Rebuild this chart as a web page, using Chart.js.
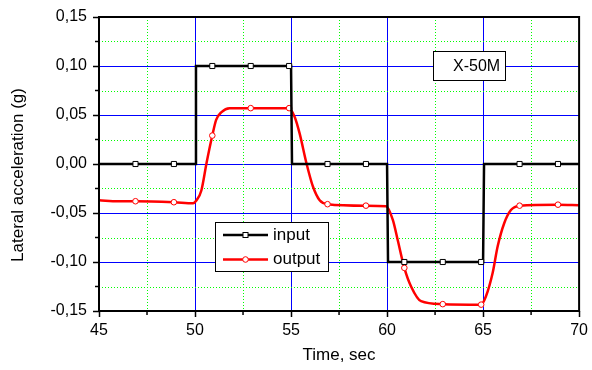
<!DOCTYPE html>
<html>
<head>
<meta charset="utf-8">
<script src="https://cdn.jsdelivr.net/npm/chart.js@4.4.0/dist/chart.umd.min.js"></script>
<style>
  body { margin: 0; background: #fff; }
  #wrap { width: 592px; height: 370px; }
</style>
</head>
<body>
<div id="wrap"><canvas id="accelChart" width="592" height="370"></canvas></div>
<script>
// time axis (sec) and values (g)
const inputTime  = [45, 46.9, 48.9, 50.0, 50.05, 50.9, 52.9, 54.9, 55.0, 55.05, 56.9, 58.9, 60.0, 60.05, 60.9, 62.9, 64.9, 65.0, 65.05, 66.9, 68.9, 70];
const inputValue = [0, 0, 0, 0, 0.1, 0.1, 0.1, 0.1, 0.1, 0, 0, 0, 0, -0.1, -0.1, -0.1, -0.1, -0.1, 0, 0, 0, 0];

const outputTime  = [45, 46, 46.9, 48.9, 49.9, 50.08, 50.33, 50.6, 50.9, 51.1, 51.38, 51.8, 52.9, 54.9, 55.19, 55.45, 55.8, 56.14, 56.49, 56.9, 58.9, 59.95, 60.3, 60.56, 60.9, 61.25, 61.77, 62.9, 64.9, 65.15, 65.5, 65.76, 66.1, 66.45, 66.9, 68.9, 70];
const outputValue = [-0.037, -0.038, -0.038, -0.039, -0.040, -0.037, -0.027, 0.001, 0.029, 0.045, 0.053, 0.057, 0.057, 0.057, 0.048, 0.031, 0.001, -0.023, -0.037, -0.041, -0.0425, -0.043, -0.057, -0.078, -0.106, -0.125, -0.140, -0.143, -0.1435, -0.135, -0.111, -0.084, -0.0605, -0.047, -0.0425, -0.0415, -0.042];

// symbols are only drawn every 2 sec
const markerTimes = [46.9, 48.9, 50.9, 52.9, 54.9, 56.9, 58.9, 60.9, 62.9, 64.9, 66.9, 68.9];

const xMin = 45, xMax = 70, xStep = 5, xMinorStep = 2.5;
const yMin = -0.15, yMax = 0.15, yStep = 0.05, yMinorStep = 0.025;

const seriesNames = ['input', 'output'];
const xTitle = 'Time, sec';
const yTitle = 'Lateral acceleration (g)';
const boxLabel = 'X-50M';

const FONT = 'Liberation Sans, Arial, sans-serif';

function toPoints(ts, vs) {
    return ts.map((t, i) => ({ x: t, y: vs[i] }));
}
function isMarker(ctx) {
    const p = ctx.raw;
    return p && markerTimes.some(m => Math.abs(m - p.x) < 1e-6);
}

// minor grid, frame, axis titles, legend and label box
const decorPlugin = {
    id: 'decor',
    beforeDatasetsDraw(chart) {
        const { ctx, chartArea: a, scales } = chart;
        const xs = scales.x, ys = scales.y;
        ctx.save();
        ctx.strokeStyle = '#00ff00';
        ctx.lineWidth = 1;
        ctx.setLineDash([1, 2]);
        for (let v = xMin + xMinorStep; v < xMax; v += xStep) {
            const px = Math.round(xs.getPixelForValue(v)) + 0.5;
            ctx.beginPath(); ctx.moveTo(px, a.top); ctx.lineTo(px, a.bottom); ctx.stroke();
        }
        for (let v = yMin + yMinorStep; v < yMax; v += yStep) {
            const py = Math.round(ys.getPixelForValue(v)) + 0.5;
            ctx.beginPath(); ctx.moveTo(a.left, py); ctx.lineTo(a.right, py); ctx.stroke();
        }
        ctx.setLineDash([]);
        // minor tick marks (outside)
        ctx.strokeStyle = '#000';
        ctx.lineWidth = 1.5;
        for (let v = xMin + xMinorStep; v < xMax; v += xStep) {
            const px = xs.getPixelForValue(v);
            ctx.beginPath(); ctx.moveTo(px, a.bottom); ctx.lineTo(px, a.bottom + 4); ctx.stroke();
        }
        for (let v = yMin + yMinorStep; v < yMax; v += yStep) {
            const py = ys.getPixelForValue(v);
            ctx.beginPath(); ctx.moveTo(a.left, py); ctx.lineTo(a.left - 4, py); ctx.stroke();
        }
        ctx.restore();
    },
    afterDraw(chart) {
        const { ctx, chartArea: a } = chart;
        ctx.save();
        // frame
        ctx.strokeStyle = '#000';
        ctx.lineWidth = 2;
        ctx.strokeRect(a.left, a.top, a.right - a.left, a.bottom - a.top);

        // axis titles
        ctx.fillStyle = '#000';
        ctx.font = '17px ' + FONT;
        ctx.textAlign = 'center';
        ctx.textBaseline = 'middle';
        ctx.fillText(xTitle, (a.left + a.right) / 2, 355);
        ctx.save();
        ctx.translate(18, 175);
        ctx.rotate(-Math.PI / 2);
        ctx.fillText(yTitle, 0, 0);
        ctx.restore();

        // legend
        const lx = 215.5, ly = 222.5, lw = 113, lh = 49;
        ctx.fillStyle = '#fff';
        ctx.fillRect(lx, ly, lw, lh);
        ctx.strokeStyle = '#000';
        ctx.lineWidth = 1;
        ctx.strokeRect(lx, ly, lw, lh);
        chart.data.datasets.forEach((ds, i) => {
            const y = 235 + i * 24.5;
            ctx.strokeStyle = ds.borderColor;
            ctx.lineWidth = 2.5;
            ctx.beginPath(); ctx.moveTo(223, y); ctx.lineTo(268, y); ctx.stroke();
            ctx.lineWidth = 1;
            ctx.fillStyle = '#fff';
            if (ds.pointStyle === 'rect') {
                ctx.fillRect(243, y - 2.5, 5, 5);
                ctx.strokeRect(243, y - 2.5, 5, 5);
            } else {
                ctx.beginPath(); ctx.arc(245.5, y, 2.8, 0, Math.PI * 2); ctx.fill(); ctx.stroke();
            }
            ctx.fillStyle = '#000';
            ctx.font = '17px ' + FONT;
            ctx.textAlign = 'left';
            ctx.textBaseline = 'middle';
            ctx.fillText(ds.label, 273, y);
        });

        // label box
        ctx.fillStyle = '#fff';
        ctx.fillRect(433.5, 51.5, 72, 29);
        ctx.strokeStyle = '#000';
        ctx.lineWidth = 1;
        ctx.strokeRect(433.5, 51.5, 72, 29);
        ctx.fillStyle = '#000';
        ctx.font = '16px ' + FONT;
        ctx.textAlign = 'left';
        ctx.textBaseline = 'middle';
        ctx.fillText(boxLabel, 453, 66.5);
        ctx.restore();
    }
};

const ctx = document.getElementById('accelChart').getContext('2d');
new Chart(ctx, {
    type: 'line',
    data: {
        datasets: [
            {
                label: seriesNames[0],
                data: toPoints(inputTime, inputValue),
                borderColor: '#000000',
                borderWidth: 2.5,
                tension: 0,
                pointStyle: 'rect',
                pointRadius: c => isMarker(c) ? 3.6 : 0,
                pointBackgroundColor: '#ffffff',
                pointBorderColor: '#000000',
                pointBorderWidth: 1
            },
            {
                label: seriesNames[1],
                data: toPoints(outputTime, outputValue),
                borderColor: '#ff0000',
                borderWidth: 2.5,
                cubicInterpolationMode: 'monotone',
                pointStyle: 'circle',
                pointRadius: c => isMarker(c) ? 2.8 : 0,
                pointBackgroundColor: '#ffffff',
                pointBorderColor: '#ff0000',
                pointBorderWidth: 1
            }
        ]
    },
    options: {
        responsive: false,
        animation: false,
        layout: { padding: { left: 0, right: 12, top: 17, bottom: 0 } },
        plugins: { legend: { display: false }, tooltip: { enabled: false } },
        scales: {
            x: {
                type: 'linear',
                min: xMin, max: xMax,
                border: { display: false },
                grid: {
                    color: c => (c.tick && (c.tick.value <= xMin || c.tick.value >= xMax)) ? 'rgba(0,0,0,0)' : '#0000ff',
                    lineWidth: 1,
                    tickColor: '#000',
                    tickLength: 6,
                    tickWidth: 1.5
                },
                ticks: {
                    stepSize: xStep,
                    color: '#000',
                    padding: 4,
                    maxRotation: 0,
                    font: { family: FONT, size: 16 },
                    callback: v => String(v)
                },
                afterFit: s => { s.height = 59; }
            },
            y: {
                min: yMin, max: yMax,
                border: { display: false },
                grid: {
                    color: c => (c.tick && Math.abs(c.tick.value) > 0.149) ? 'rgba(0,0,0,0)' : '#0000ff',
                    lineWidth: 1,
                    tickColor: '#000',
                    tickLength: 6,
                    tickWidth: 1.5
                },
                ticks: {
                    stepSize: yStep,
                    color: '#000',
                    padding: 6,
                    font: { family: FONT, size: 16 },
                    callback: v => (Math.abs(v) < 1e-9 ? 0 : v).toFixed(2).replace('.', ',')
                },
                afterFit: s => { s.width = 99; }
            }
        }
    },
    plugins: [decorPlugin]
});
</script>
</body>
</html>
